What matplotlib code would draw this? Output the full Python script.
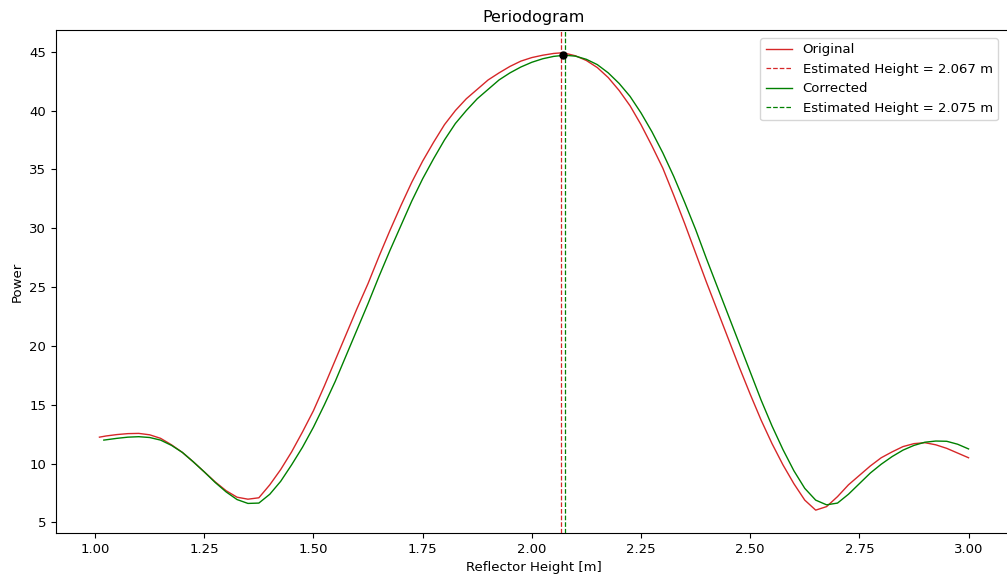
import matplotlib
matplotlib.use("Agg")
import matplotlib.pyplot as plt

# Original periodogram
orig_h = [1.01, 1.025, 1.05, 1.075, 1.10, 1.125, 1.15, 1.175, 1.20, 1.225, 1.25, 1.275,
          1.30, 1.325, 1.35, 1.375, 1.40, 1.425, 1.45, 1.475, 1.50, 1.525, 1.55, 1.575,
          1.60, 1.625, 1.65, 1.675, 1.70, 1.725, 1.75, 1.775, 1.80, 1.825, 1.85, 1.875,
          1.90, 1.925, 1.95, 1.975, 2.00, 2.025, 2.05, 2.067, 2.075, 2.10, 2.125, 2.15,
          2.175, 2.20, 2.225, 2.25, 2.275, 2.30, 2.325, 2.35, 2.375, 2.40, 2.425, 2.45,
          2.475, 2.50, 2.525, 2.55, 2.575, 2.60, 2.625, 2.65, 2.675, 2.70, 2.725, 2.75,
          2.775, 2.80, 2.825, 2.85, 2.875, 2.90, 2.925, 2.95, 2.975, 3.00]
orig_p = [12.25, 12.35, 12.47, 12.55, 12.57, 12.45, 12.15, 11.6, 10.95, 10.15, 9.3, 8.45,
          7.7, 7.15, 6.98, 7.1, 8.2, 9.5, 11.0, 12.7, 14.5, 16.6, 18.8, 21.0,
          23.2, 25.3, 27.6, 29.8, 31.9, 33.9, 35.7, 37.3, 38.8, 40.0, 41.0, 41.8,
          42.6, 43.2, 43.75, 44.2, 44.5, 44.7, 44.85, 44.9, 44.88, 44.65, 44.25, 43.65,
          42.8, 41.7, 40.4, 38.8, 37.0, 35.1, 32.8, 30.4, 27.9, 25.4, 23.0, 20.6,
          18.2, 15.9, 13.7, 11.7, 9.9, 8.3, 6.9, 6.05, 6.35, 7.2, 8.2, 9.0,
          9.8, 10.5, 11.0, 11.45, 11.7, 11.78, 11.6, 11.3, 10.9, 10.5]

# Corrected periodogram
corr_h = [1.02, 1.05, 1.075, 1.10, 1.125, 1.15, 1.175, 1.20, 1.225, 1.25, 1.275,
          1.30, 1.325, 1.35, 1.375, 1.40, 1.425, 1.45, 1.475, 1.50, 1.525, 1.55, 1.575,
          1.60, 1.625, 1.65, 1.675, 1.70, 1.725, 1.75, 1.775, 1.80, 1.825, 1.85, 1.875,
          1.90, 1.925, 1.95, 1.975, 2.00, 2.025, 2.05, 2.075, 2.10, 2.125, 2.15,
          2.175, 2.20, 2.225, 2.25, 2.275, 2.30, 2.325, 2.35, 2.375, 2.40, 2.425, 2.45,
          2.475, 2.50, 2.525, 2.55, 2.575, 2.60, 2.625, 2.65, 2.675, 2.70, 2.725, 2.75,
          2.775, 2.80, 2.825, 2.85, 2.875, 2.90, 2.925, 2.95, 2.975, 3.00]
corr_p = [12.0, 12.15, 12.25, 12.29, 12.22, 12.0, 11.55, 10.95, 10.15, 9.3, 8.4,
          7.6, 6.95, 6.62, 6.65, 7.4, 8.5, 9.9, 11.4, 13.1, 15.0, 17.0, 19.2,
          21.4, 23.6, 25.9, 28.1, 30.2, 32.3, 34.2, 35.9, 37.5, 38.9, 40.0, 41.0,
          41.8, 42.6, 43.2, 43.7, 44.1, 44.4, 44.6, 44.7, 44.62, 44.35, 43.9,
          43.2, 42.3, 41.2, 39.8, 38.2, 36.4, 34.4, 32.2, 29.9, 27.4, 25.0, 22.6,
          20.2, 17.8, 15.4, 13.2, 11.2, 9.4, 7.9, 6.9, 6.5, 6.65, 7.4, 8.3,
          9.2, 9.95, 10.6, 11.15, 11.55, 11.82, 11.92, 11.9, 11.65, 11.25]

est_orig = 2.067
est_corr = 2.075
peak_h = 2.071
peak_p = 44.75

plt.rcParams["font.size"] = 9.5

fig = plt.figure(figsize=(10.07, 5.75), dpi=100)
ax = fig.add_axes([56 / 1007, 1 - 533 / 575, (1012 - 56) / 1007, (533 - 30) / 575])

ax.plot(orig_h, orig_p, color="tab:red", lw=1.0, label="Original")
ax.axvline(est_orig, color="tab:red", ls="--", lw=0.9,
           label=f"Estimated Height = {est_orig:.3f} m")
ax.plot(corr_h, corr_p, color="green", lw=1.0, label="Corrected")
ax.axvline(est_corr, color="green", ls="--", lw=0.9,
           label=f"Estimated Height = {est_corr:.3f} m")
ax.plot([peak_h], [peak_p], "o", color="black", ms=5)

ax.set_xticks([1.00, 1.25, 1.50, 1.75, 2.00, 2.25, 2.50, 2.75, 3.00])
ax.set_xticklabels(["1.00", "1.25", "1.50", "1.75", "2.00", "2.25", "2.50", "2.75", "3.00"])
ax.set_xlabel("Reflector Height [m]")
ax.set_ylabel("Power")
ax.set_title("Periodogram", fontsize=11.5)
ax.legend(loc="upper right", bbox_to_anchor=(998 / 1007, 1 - 38 / 575),
          bbox_transform=fig.transFigure, borderaxespad=0.0)

fig.savefig("out.png", dpi=100)
